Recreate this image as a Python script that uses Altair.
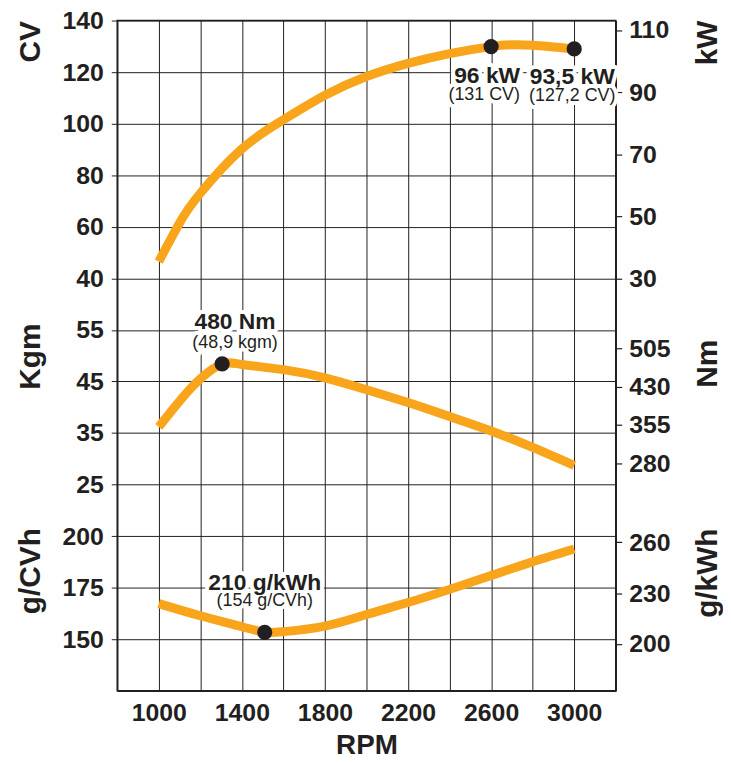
import altair as alt
import pandas as pd

# ---------------- data ----------------
power_rpm = [1000, 1100, 1200, 1400, 1600, 1800, 2000, 2200, 2400, 2600, 2700, 2800, 3000]
power_cv = [46.5, 61.5, 73.0, 90.2, 101.5, 111.0, 118.3, 123.4, 127.2, 129.9, 130.6, 130.4, 129.0]

torque_rpm = [1000, 1100, 1200, 1305, 1400, 1600, 1800, 2000, 2200, 2400, 2600, 2800, 3000]
torque_kgm = [36.2, 41.2, 45.5, 48.4, 48.3, 47.3, 45.7, 43.4, 40.9, 38.2, 35.4, 32.2, 28.7]

cons_rpm = [1000, 1200, 1400, 1510, 1600, 1800, 2000, 2200, 2400, 2600, 2800, 3000]
cons_gcvh = [167.3, 161.4, 156.1, 153.4, 153.7, 156.4, 162.0, 167.8, 174.2, 180.9, 187.6, 193.8]

# highlighted points
mark_rpm = [2600, 3000, 1305, 1510]
mark_series = ["power", "power", "torque", "cons"]
mark_value = [129.9, 129.0, 48.4, 153.4]
mark_title = ["96 kW", "93,5 kW", "480 Nm", "210 g/kWh"]
mark_sub = ["(131 CV)", "(127,2 CV)", "(48,9 kgm)", "(154 g/CVh)"]

# axis ticks
rpm_grid = [1000, 1200, 1400, 1600, 1800, 2000, 2200, 2400, 2600, 2800, 3000]
rpm_labels = [1000, 1400, 1800, 2200, 2600, 3000]
cv_ticks = [40, 60, 80, 100, 120, 140]
kgm_ticks = [25, 35, 45, 55]
gcvh_ticks = [150, 175, 200]
kw_ticks = [30, 50, 70, 90, 110]
nm_ticks = [280, 355, 430, 505]
gkwh_ticks = [200, 230, 260]


# ---------------- stacked-band mapping onto one grid scale ----------------
def cv_u(v):
    return 8 + (v - 40) / 20


def kgm_u(v):
    return 4 + (v - 25) / 10


def gcvh_u(v):
    return 1 + (v - 150) / 25


def kw_u(v):
    return 8 + (v - 30) * 0.0602


def nm_u(v):
    return 4.416 + (v - 280) * 0.743 / 75


def gkwh_u(v):
    return 0.908 + (v - 200) * 0.0329


conv = {"power": cv_u, "torque": kgm_u, "cons": gcvh_u}

lines_df = pd.concat([
    pd.DataFrame({"rpm": power_rpm, "u": [cv_u(v) for v in power_cv], "series": "power"}),
    pd.DataFrame({"rpm": torque_rpm, "u": [kgm_u(v) for v in torque_kgm], "series": "torque"}),
    pd.DataFrame({"rpm": cons_rpm, "u": [gcvh_u(v) for v in cons_gcvh], "series": "cons"}),
], ignore_index=True)

marks_df = pd.DataFrame({
    "idx": list(range(len(mark_rpm))),
    "rpm": mark_rpm,
    "u": [conv[s](v) for s, v in zip(mark_series, mark_value)],
    "title": mark_title,
    "sub": mark_sub,
})


def build_expr(units, labels):
    parts = [f"abs(datum.value - {u}) < 0.001 ? '{l}'" for u, l in zip(units, labels)]
    return " : ".join(parts) + " : ''"


left_units = [round(cv_u(v), 4) for v in cv_ticks] + [round(kgm_u(v), 4) for v in kgm_ticks] + \
             [round(gcvh_u(v), 4) for v in gcvh_ticks]
left_labels = [str(v) for v in cv_ticks + kgm_ticks + gcvh_ticks]
right_units = [round(kw_u(v), 4) for v in kw_ticks] + [round(nm_u(v), 4) for v in nm_ticks] + \
              [round(gkwh_u(v), 4) for v in gkwh_ticks]
right_labels = [str(v) for v in kw_ticks + nm_ticks + gkwh_ticks]
x_expr = build_expr(rpm_labels, [str(v) for v in rpm_labels])

# ---------------- styling ----------------
FONT = "Liberation Sans"
INK = "#231F20"
ORANGE = "#F8A51B"
W, H = 502, 675

xs = alt.Scale(domain=[800, 3200], nice=False, zero=False)
ys = alt.Scale(domain=[0, 13], nice=False, zero=False)

lab = dict(labelFont=FONT, labelFontSize=25, labelFontWeight="bold", labelColor=INK,
           labelOverlap=False, labelFlush=False)
ttl = dict(titleFont=FONT, titleFontSize=30, titleFontWeight="bold", titleColor=INK)

x_axis = alt.Axis(values=rpm_grid, labelExpr=x_expr, title="RPM", grid=True, gridColor=INK,
                  gridWidth=1, ticks=False, tickSize=0, labelPadding=10, domainColor=INK,
                  domainWidth=1.5, titlePadding=6, **lab,
                  titleFont=FONT, titleFontSize=28, titleFontWeight="bold", titleColor=INK)
X = alt.X("rpm:Q", scale=xs, axis=x_axis)


def side_title(orient, title, tx, ty, extra=None):
    d = dict(orient=orient, title=title, titleAngle=270, titleX=tx, titleY=ty,
             titleAlign="center", titleBaseline="alphabetic", **ttl)
    if extra:
        d.update(extra)
    else:
        d.update(dict(labels=False, ticks=False, domain=False, grid=False))
    return alt.Axis(**d)


left_axis = side_title("left", "CV", -78, 21, dict(
    values=left_units, labelExpr=build_expr(left_units, left_labels), grid=True, gridColor=INK,
    gridWidth=1, tickSize=6, tickColor=INK, tickWidth=1, labelPadding=8, domainColor=INK,
    domainWidth=1.5, **lab))
right_axis = side_title("right", "kW", 101, 22, dict(
    values=right_units, labelExpr=build_expr(right_units, right_labels), grid=False,
    tickSize=6, tickColor=INK, tickWidth=1.2, labelPadding=7, domainColor=INK,
    domainWidth=1.5, labelAlign="left", **lab))

base_lines = alt.Chart(lines_df)
line_style = dict(color=ORANGE, strokeWidth=9, strokeCap="butt", interpolate="natural")

axes_layer = base_lines.mark_line(opacity=0).encode(
    x=X, y=alt.Y("u:Q", scale=ys, axis=left_axis), detail="series:N")


def ghost(axis):
    return base_lines.mark_point(opacity=0).encode(x=X, y=alt.Y("u:Q", scale=ys, axis=axis))


ghost_right = ghost(right_axis)
ghost_kgm = ghost(side_title("left", "Kgm", -78, 338))
ghost_gcvh = ghost(side_title("left", "g/CVh", -78, 554))
ghost_nm = ghost(side_title("right", "Nm", 101, 345))
ghost_gkwh = ghost(side_title("right", "g/kWh", 101, 556))

enc = dict(x=X, y=alt.Y("u:Q", scale=ys, axis=None))

curves = base_lines.mark_line(**line_style).encode(detail="series:N", **enc)

base_marks = alt.Chart(marks_df)
dots = base_marks.mark_circle(size=235, color=INK, opacity=1).encode(**enc)

# per-label offsets from their point (title dx, dy, subtitle dx, dy)
offsets = [(-4, 37, -7, 54), (-2, 35, -2, 52), (13, -35, 13, -16), (0, -43, 0, -26)]

halo_layers, text_layers = [], []
for i, (tdx, tdy, sdx, sdy) in enumerate(offsets):
    sel = base_marks.transform_filter(f"datum.idx == {i}")
    for field, dx, dy, size, weight in [("title", tdx, tdy, 23, "bold"), ("sub", sdx, sdy, 18, "normal")]:
        common = dict(font=FONT, fontSize=size, fontWeight=weight, dx=dx, dy=dy,
                      align="center", baseline="alphabetic")
        halo_layers.append(sel.mark_text(color="white", stroke="white", strokeWidth=8,
                                         strokeJoin="round", **common).encode(
            text=f"{field}:N", **enc))
        text_layers.append(sel.mark_text(color=INK, **common).encode(text=f"{field}:N", **enc))

chart = alt.layer(
    axes_layer, ghost_right, ghost_kgm, ghost_gcvh, ghost_nm, ghost_gkwh,
    *halo_layers, curves, dots, *text_layers,
).resolve_scale(y="independent").properties(
    width=W, height=H,
    autosize=alt.AutoSizeParams(type="none"),
    padding={"left": 110, "top": 10, "right": 108, "bottom": 66},
    background="white",
).configure_view(stroke=INK, strokeWidth=1.5)

chart.save("out.html", embed_options={"renderer": "svg", "actions": False})
